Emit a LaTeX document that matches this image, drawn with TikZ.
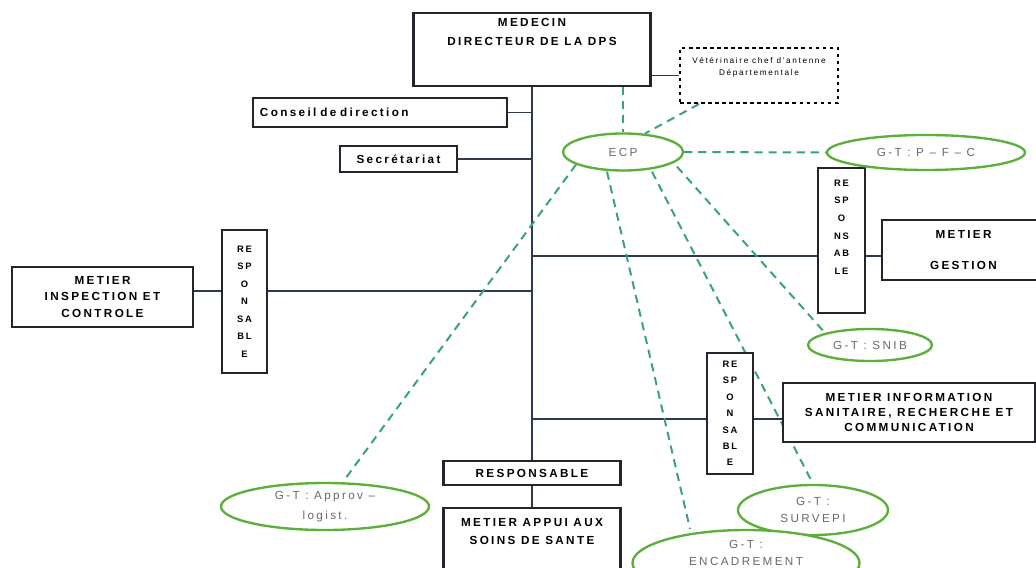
\documentclass[tikz,border=0pt]{standalone}
\usepackage{fontspec}
\setmainfont{Liberation Sans}[LetterSpace=20]
\usetikzlibrary{shapes.geometric, positioning, backgrounds}
\definecolor{linea}{HTML}{2E3850}
\definecolor{borde}{HTML}{24242E}
\definecolor{verde}{HTML}{5BAF3A}
\definecolor{punteo}{HTML}{38A37A}
\definecolor{textgt}{HTML}{6A6A6A}
\tikzset{
	x=0.03cm, y=-0.03cm, % un pixel de la imagen
	caja/.style={draw=borde, line width=2pt, fill=white, align=center, inner sep=2pt,
		font=\fontsize{10}{15}\selectfont\bfseries}, % cajas de los metiers
	resp/.style={caja, inner sep=1pt, font=\fontsize{8}{15}\selectfont\bfseries}, % cajas verticales
	gt/.style={ellipse, draw=verde, line width=2pt, fill=white, inner sep=0pt, align=center,
		text=textgt, font=\fontsize{10}{15}\selectfont}, % grupos de trabajo
	enlace/.style={draw=linea, line width=1.3pt}, % lineas jerarquicas
	apoyo/.style={draw=punteo, line width=1.7pt, dash pattern=on 7pt off 5pt} % lineas punteadas
}

\begin{document}
\begin{tikzpicture}
	\useasboundingbox (0,0) rectangle (1036,568);
	\coordinate (tronco) at (532,0);
	\coordinate (ramaD) at (532,256);
	\coordinate (ramaG) at (532,291);
	\coordinate (ramaI) at (532,419);

	\node[caja, minimum width=7.11cm, minimum height=2.19cm, font=\fontsize{10}{17}\selectfont\bfseries] (dir) at (532,49.5)
		{MEDECIN\\DIRECTEUR DE LA DPS\\[13pt]\mbox{}};
	\node[caja, draw=black, dashed, line width=1.8pt, minimum width=4.74cm, minimum height=1.65cm,
		font=\fontsize{7}{10}\selectfont] (vet) at (759,75.5)
		{Vétérinaire chef d'antenne\\Départementale\\[6pt]\mbox{}};
	\node[caja, minimum width=7.62cm, minimum height=0.87cm, text width=7.2cm, align=left] (cons) at (380,112.5)
		{Conseil de direction};
	\node[caja, minimum width=3.51cm, minimum height=0.78cm] (sec) at (398.5,159) {Secrétariat};

	\node[resp, minimum width=1.41cm, minimum height=4.35cm] (respD) at (841.5,240.5)
		{RE\\SP\\O\\NS\\AB\\LE\\[8pt]\mbox{}};
	\node[caja, minimum width=4.89cm, minimum height=1.8cm] (gest) at (963.5,250)
		{METIER\\[12pt]GESTION};

	\node[resp, minimum width=1.35cm, minimum height=4.29cm] (respG) at (244.5,301.5)
		{RE\\SP\\O\\N\\SA\\BL\\E};
	\node[caja, minimum width=5.43cm, minimum height=1.8cm, font=\fontsize{10}{14}\selectfont\bfseries] (insp) at (102.5,297)
		{METIER\\INSPECTION ET\\CONTROLE};

	\node[resp, minimum width=1.38cm, minimum height=3.63cm, font=\fontsize{8}{14}\selectfont\bfseries] (respI) at (730,413.5)
		{RE\\SP\\O\\N\\SA\\BL\\E};
	\node[caja, minimum width=7.56cm, minimum height=1.77cm, font=\fontsize{10}{12.5}\selectfont\bfseries] (info) at (909,412.5)
		{METIER INFORMATION\\SANITAIRE, RECHERCHE ET\\COMMUNICATION};

	\node[caja, minimum width=5.31cm, minimum height=0.72cm] (rsp) at (532,473) {RESPONSABLE};
	\node[caja, minimum width=5.31cm, minimum height=2.46cm] (appui) at (532,549)
		{METIER APPUI AUX\\SOINS DE SANTE\\[15pt]\mbox{}};

	\node[gt, minimum width=3.6cm, minimum height=1.11cm] (ecp) at (623,152) {ECP};
	\node[gt, minimum width=5.94cm, minimum height=1.05cm] (pfc) at (926,152.5) {G-T : P – F – C};
	\node[gt, minimum width=3.72cm, minimum height=0.96cm] (snib) at (870,345) {G-T : SNIB};
	\node[gt, minimum width=6.24cm, minimum height=1.41cm, font=\fontsize{10}{17}\selectfont] (appro) at (325,506.5)
		{G-T : Approv –\\logist.};
	\node[gt, minimum width=4.5cm, minimum height=1.5cm] (surv) at (813,510) {G-T :\\SURVEPI};
	\node[gt, minimum width=6.81cm, minimum height=1.98cm] (encad) at (746,563) {G-T :\\ENCADREMENT\\[2pt]\mbox{}};

	\begin{pgfonlayer}{background}
	% tronco y ramas
	\draw[enlace] (dir.south -| tronco) -- (rsp.north -| tronco);
	\draw[enlace] (rsp) -- (appui);
	\draw[enlace] (vet.west) -- (vet.west -| dir.east);
	\draw[enlace] (cons.east) -- (cons.east -| tronco);
	\draw[enlace] (sec.east) -- (sec.east -| tronco);
	\draw[enlace] (ramaD) -- (ramaD -| respD.west)
		(ramaD -| respD.east) -- (ramaD -| gest.west);
	\draw[enlace] (ramaG) -- (ramaG -| respG.east)
		(ramaG -| respG.west) -- (ramaG -| insp.east);
	\draw[enlace] (ramaI) -- (ramaI -| respI.west)
		(ramaI -| respI.east) -- (ramaI -| info.west);

	% grupos de trabajo
	\draw[apoyo] (ecp.north |- dir.south) -- (ecp.north);
	\draw[apoyo] ([xshift=0.6cm]vet.south west) -- (ecp.40);
	\draw[apoyo] (ecp.east) -- (pfc.west);
	\draw[apoyo] (ecp.195) -- ([xshift=0.54cm]appro.north);
	\draw[apoyo] ([xshift=-0.48cm]ecp.south) -- ([xshift=-1.68cm]encad.north);
	\draw[apoyo] ([xshift=0.87cm]ecp.south) -- (surv.north);
	\draw[apoyo] ([xshift=1.62cm,yshift=0.15cm]ecp.south) -- (snib.165);
	\end{pgfonlayer}
\end{tikzpicture}
\end{document}
